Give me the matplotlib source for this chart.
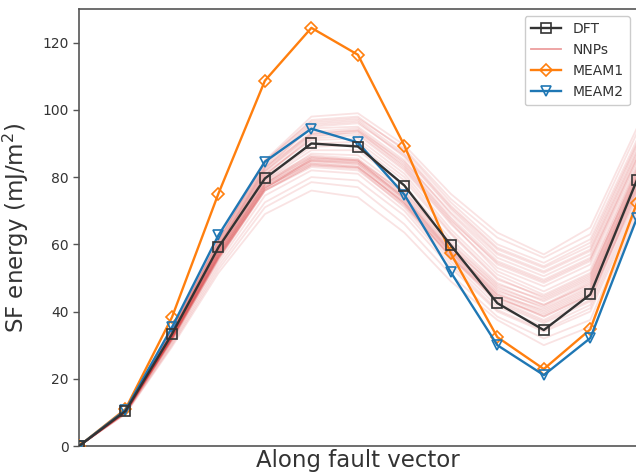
import matplotlib.pyplot as plt
import numpy as np

# Stacking fault energies along the fault vector (mJ/m^2)

steps = np.arange(13)

dft = [0, 10.4, 33.3, 59.1, 79.6, 90.0, 89.1, 77.5, 59.7, 42.5, 34.5, 45.1, 79.0]
meam1 = [0, 11.0, 38.3, 75.1, 108.7, 124.4, 116.4, 89.4, 57.3, 32.4, 22.9, 34.7, 72.2]
meam2 = [0, 10.7, 35.3, 62.7, 84.6, 94.4, 90.3, 74.8, 51.7, 30.0, 21.1, 32.1, 67.7]

# NNP ensemble predictions
nnps = [
    [0, 10.2, 32.5, 57.0, 77.5, 85.0, 84.0, 73.0, 57.0, 44.0, 38.5, 45.0, 77.0],
    [0, 10.0, 32.0, 56.0, 76.5, 84.0, 83.0, 72.5, 56.5, 43.0, 37.0, 43.5, 75.5],
    [0, 9.8, 31.5, 55.5, 76.0, 83.5, 82.5, 71.0, 55.0, 41.5, 35.5, 42.0, 74.0],
    [0, 10.3, 32.8, 57.5, 78.0, 85.5, 84.5, 74.0, 58.5, 45.5, 40.0, 46.5, 78.5],
    [0, 10.1, 32.2, 56.5, 77.0, 84.5, 83.5, 72.0, 56.0, 42.5, 36.5, 43.0, 76.0],
    [0, 9.9, 31.0, 54.5, 74.5, 82.0, 81.0, 70.0, 54.0, 40.5, 34.5, 41.0, 72.5],
    [0, 10.4, 33.0, 58.0, 79.0, 86.5, 85.5, 75.0, 59.5, 46.5, 41.0, 47.5, 79.5],
    [0, 10.0, 31.8, 56.0, 76.0, 83.0, 82.0, 71.5, 56.5, 44.0, 39.0, 45.5, 77.5],
    [0, 9.7, 30.5, 53.5, 72.5, 80.0, 79.0, 68.5, 53.0, 40.0, 34.0, 40.0, 71.0],
    [0, 10.2, 32.4, 57.0, 78.0, 86.0, 85.0, 74.5, 59.0, 47.0, 42.0, 49.0, 80.5],
    [0, 9.5, 29.5, 51.5, 69.0, 76.0, 74.0, 63.5, 49.0, 37.5, 30.0, 35.5, 68.5],
    [0, 9.6, 30.0, 52.5, 71.0, 78.5, 77.0, 66.0, 51.0, 38.5, 32.0, 37.5, 70.0],
    [0, 10.1, 32.0, 56.5, 77.5, 85.0, 84.5, 74.0, 58.0, 45.0, 39.5, 46.0, 78.0],
    [0, 10.3, 32.6, 57.5, 78.5, 86.0, 85.0, 73.5, 57.5, 44.5, 38.5, 45.0, 76.5],
    [0, 10.5, 33.5, 59.5, 82.0, 93.5, 94.5, 84.0, 68.0, 55.0, 49.5, 56.0, 86.0],
    [0, 10.6, 34.0, 60.5, 83.5, 95.5, 96.5, 86.0, 70.5, 57.5, 52.0, 58.5, 88.5],
    [0, 10.4, 33.0, 58.5, 80.5, 91.5, 92.5, 82.0, 66.0, 53.0, 47.5, 54.0, 84.0],
    [0, 10.7, 34.5, 61.0, 84.5, 97.0, 98.0, 88.0, 72.5, 60.0, 54.5, 61.5, 91.0],
    [0, 10.8, 34.8, 61.5, 85.0, 98.0, 99.0, 89.5, 75.0, 63.5, 57.0, 65.0, 94.5],
    [0, 10.5, 33.2, 59.0, 81.5, 92.5, 93.0, 82.5, 66.5, 52.0, 46.0, 52.5, 83.0],
    [0, 10.4, 33.0, 58.8, 81.0, 91.0, 91.5, 81.0, 64.5, 51.0, 45.0, 51.5, 82.5],
    [0, 10.6, 33.8, 60.0, 83.0, 94.5, 95.0, 85.0, 69.0, 56.0, 50.5, 57.0, 87.0],
    [0, 10.5, 33.5, 59.5, 82.5, 95.0, 96.0, 86.5, 71.0, 58.5, 53.0, 59.5, 89.5],
    [0, 10.3, 32.8, 58.0, 80.0, 90.0, 90.5, 80.0, 63.5, 50.0, 44.0, 50.5, 81.5],
    [0, 10.6, 34.2, 60.8, 84.0, 96.0, 97.0, 87.0, 71.5, 59.0, 53.5, 60.5, 90.0],
    [0, 10.4, 33.2, 58.5, 80.5, 92.0, 93.5, 83.5, 67.5, 54.0, 48.5, 55.0, 85.0],
    [0, 10.2, 32.5, 57.5, 79.0, 88.0, 88.0, 77.5, 61.5, 48.5, 43.0, 49.5, 80.0],
    [0, 10.3, 33.0, 58.0, 79.5, 89.0, 89.5, 79.0, 63.0, 49.5, 44.5, 51.0, 81.0],
    [0, 10.1, 32.2, 56.8, 78.0, 87.0, 86.5, 76.0, 60.0, 47.5, 42.0, 48.0, 79.0],
    [0, 10.0, 31.5, 55.5, 76.5, 85.5, 85.0, 75.5, 60.5, 48.0, 43.5, 50.0, 82.0],
    [0, 10.2, 32.0, 56.5, 77.0, 84.0, 83.0, 72.5, 57.5, 45.0, 40.5, 47.0, 79.0],
    [0, 10.0, 31.6, 55.8, 76.0, 83.5, 82.8, 72.0, 56.0, 43.5, 37.5, 44.5, 74.5],
    [0, 10.1, 32.1, 56.2, 76.8, 84.8, 84.0, 73.5, 58.0, 46.0, 41.5, 48.5, 80.0],
    [0, 10.5, 33.6, 59.8, 82.8, 93.0, 93.8, 83.0, 67.0, 54.5, 49.0, 55.5, 85.5],
    [0, 10.7, 34.4, 61.2, 84.8, 96.5, 97.5, 88.5, 73.5, 62.0, 56.0, 63.0, 93.0],
    [0, 10.4, 33.4, 59.2, 81.8, 92.8, 94.0, 84.5, 69.5, 57.0, 51.5, 58.0, 87.5],
]

textColor = '#333333'
spineColor = '#555555'

fig = plt.figure(figsize=(6.36, 4.75), dpi=100)
ax = fig.add_axes([0.1242, 0.061, 0.877, 0.92])

# DFT reference drawn first so it sits at the top of the legend
ax.plot(steps, dft, color='#333333', lw=1.7, marker='s', ms=6.5,
        mfc='none', mew=1.2, label='DFT', zorder=4)

for i, row in enumerate(nnps):
    ax.plot(steps, row, color='tab:red', lw=1.3, alpha=0.13,
            label='NNPs' if i == 0 else None, zorder=2)

ax.plot(steps, meam1, color='tab:orange', lw=1.7, marker='D', ms=6.5,
        mfc='none', mew=1.2, label='MEAM1', zorder=3)
ax.plot(steps, meam2, color='tab:blue', lw=1.7, marker='v', ms=7,
        mfc='none', mew=1.2, label='MEAM2', zorder=3)

ax.set_xlim(0, 12)
ax.set_ylim(0, 130)
ax.set_xticks([])
ax.set_yticks(np.arange(0, 121, 20))
ax.tick_params(axis='y', labelsize=10, colors=spineColor, labelcolor=textColor,
               length=4, width=1)

for side in ['left', 'top', 'bottom']:
    ax.spines[side].set_color(spineColor)
    ax.spines[side].set_linewidth(1.2)
ax.spines['right'].set_visible(False)

ax.set_xlabel('Along fault vector', fontsize=16.5, color=textColor, labelpad=2)
ax.set_ylabel('SF energy (mJ/m$^2$)', fontsize=16.5, color=textColor, labelpad=8)

lgd = ax.legend(loc='upper right', fontsize=10, framealpha=1,
                edgecolor='#cccccc', borderpad=0.45, handlelength=2.2)
for t in lgd.get_texts():
    t.set_color(textColor)
lgd.legend_handles[1].set_alpha(0.45)

fig.savefig('out.png', dpi=100)
